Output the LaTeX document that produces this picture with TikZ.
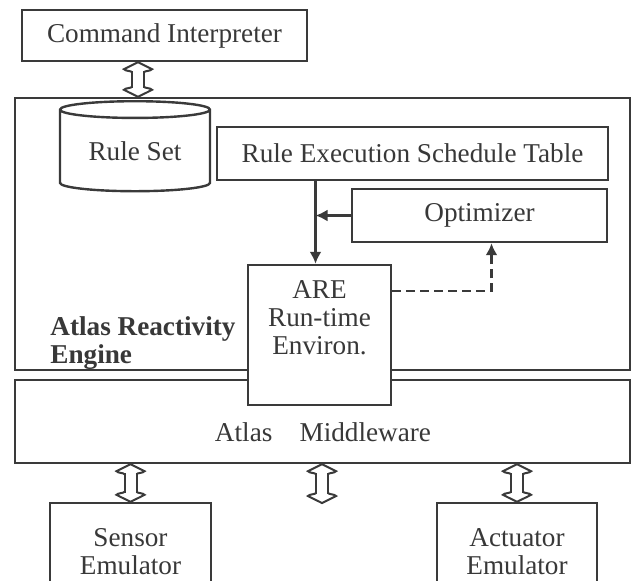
\documentclass[tikz,border=0pt]{standalone}
\usepackage{fontspec}
\setmainfont{Liberation Serif}
\usepackage{tikz}
\usetikzlibrary{calc,arrows.meta,shapes.geometric}
\definecolor{atlasLine}{HTML}{3A3A3A}
\definecolor{atlasText}{HTML}{383838}
% hollow head for the two-way links
\pgfdeclarearrow{
  name = LinkHead,
  parameters = {\the\pgfarrowlength,\the\pgfarrowwidth},
  setup code = {
    \pgfarrowssettipend{0pt}
    \pgfarrowssetlineend{-0.9\pgfarrowlength}
    \pgfarrowssetvisualbackend{-\pgfarrowlength}
    \pgfarrowssetbackend{-\pgfarrowlength}
    \pgfarrowssavethe\pgfarrowlength
    \pgfarrowssavethe\pgfarrowwidth
  },
  drawing code = {
    \pgfsetdash{}{0pt}
    \pgfsetlinewidth{1pt}
    \pgfsetstrokecolor{atlasLine}
    \pgfpathmoveto{\pgfqpoint{-\pgfarrowlength}{3pt}}
    \pgfpathcurveto{\pgfqpoint{-0.85\pgfarrowlength}{3.4pt}}{\pgfqpoint{-0.9\pgfarrowlength}{0.45\pgfarrowwidth}}{\pgfqpoint{-0.7\pgfarrowlength}{0.5\pgfarrowwidth}}
    \pgfpathcurveto{\pgfqpoint{-0.4\pgfarrowlength}{0.3\pgfarrowwidth}}{\pgfqpoint{-0.15\pgfarrowlength}{0.1\pgfarrowwidth}}{\pgfpointorigin}
    \pgfpathcurveto{\pgfqpoint{-0.15\pgfarrowlength}{-0.1\pgfarrowwidth}}{\pgfqpoint{-0.4\pgfarrowlength}{-0.3\pgfarrowwidth}}{\pgfqpoint{-0.7\pgfarrowlength}{-0.5\pgfarrowwidth}}
    \pgfpathcurveto{\pgfqpoint{-0.9\pgfarrowlength}{-0.45\pgfarrowwidth}}{\pgfqpoint{-0.85\pgfarrowlength}{-3.4pt}}{\pgfqpoint{-\pgfarrowlength}{-3pt}}
    \pgfusepathqstroke
  },
  defaults = {length=5pt, width=14pt}
}
\tikzset{
  atlasbox/.style={rectangle, draw=atlasLine, fill=white, line width=1.2pt, align=center, text=atlasText, font=\fontsize{13.6}{14}\selectfont, inner sep=0pt},
  atlasstore/.style={cylinder, shape border rotate=90, aspect=0.18, draw=atlasLine, fill=white, line width=1.2pt, align=center, text=atlasText, font=\fontsize{13.6}{14}\selectfont, inner sep=0pt},
  atlastext/.style={align=center, text=atlasText, font=\fontsize{13.6}{14}\selectfont, inner sep=0pt},
  flowarrow/.style={-{Latex[length=6pt,width=6pt]}, line width=1.2pt, draw=atlasLine},
  dasharrow/.style={-{Latex[length=6pt,width=6pt]}, line width=1.2pt, draw=atlasLine, dashed, dash pattern=on 4.5pt off 2.5pt},
  linkarrow/.style={{LinkHead}-{LinkHead}, double=white, double distance=5pt, line width=1pt, draw=atlasLine},
}
\begin{document}
\begin{tikzpicture}[x=0.5pt,y=-0.5pt]
  \useasboundingbox (0,0) rectangle (635,580);
  % --- top ---
  \node[atlasbox, minimum width=142.5pt, minimum height=25.5pt] (cmd) at (164.5,35.5) {Command Interpreter};
  \node[atlasbox, minimum width=307.5pt, minimum height=136pt] (engine) at (322.5,234) {};
  \node[atlasbox, minimum width=307.5pt, minimum height=41.5pt] (mw) at (322.5,421.5) {};
  \node[atlastext] (mwtext) at (323,432) {Atlas\quad Middleware};
  \node[atlastext, font=\fontsize{13.6}{14}\selectfont\bfseries, anchor=north west, align=left] (enginetext) at (50,316) {Atlas Reactivity\\Engine};
  % --- engine contents ---
  \node[atlasstore, minimum width=75pt, minimum height=45pt, anchor=north] (rules) at (135,100) {Rule Set};
  \node[atlasbox, minimum width=195.5pt, minimum height=26.5pt] (ret) at (412.5,153.5) {Rule Execution Schedule Table};
  \node[atlasbox, minimum width=127.5pt, minimum height=26.5pt] (opt) at (479.5,215.5) {Optimizer};
  \node[atlasbox, minimum width=71.5pt, minimum height=70pt] (are) at (319.5,335) {};
  \node[atlastext, anchor=north] (aretext) at ([yshift=-8pt]are.north) {ARE\\Run-time\\Environ.};
  % --- emulators ---
  \node[atlasbox, minimum width=80.5pt, minimum height=48.5pt] (sensor) at (130.5,551.5) {Sensor\\Emulator};
  \node[atlasbox, minimum width=80pt, minimum height=48.5pt] (act) at (517,551.5) {Actuator\\Emulator};
  \coordinate (free) at (322,503);
  \coordinate (areIn) at ([xshift=-2pt]are.north);
  \coordinate (areTap) at (areIn |- opt.west);
  \coordinate (areOut) at ($(are.north east)!0.19!(are.south east)$);
  \coordinate (optIn) at ([xshift=6pt]opt.south);
  \coordinate (cmdLink) at (138,0);

  \draw[flowarrow] (areIn |- ret.south) -- (areIn);
  \draw[flowarrow] (opt.west) -- (areTap);
  \draw[dasharrow] (areOut) -| (optIn);
  \draw[linkarrow] (cmd.south -| cmdLink) -- (engine.north -| cmdLink);
  \draw[linkarrow] (mw.south -| sensor.north) -- (sensor.north);
  \draw[linkarrow] (mw.south -| free) -- (free);
  \draw[linkarrow] (mw.south -| act.north) -- (act.north);
\end{tikzpicture}
\end{document}
